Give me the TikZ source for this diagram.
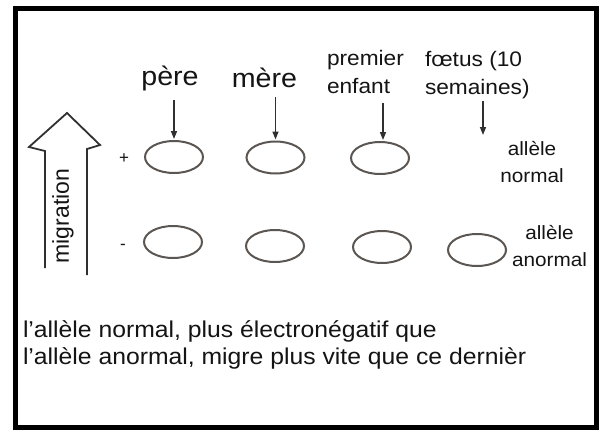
\documentclass[tikz,border=0pt]{standalone}
\usepackage{fontspec}
\setmainfont{Liberation Sans}
\newfontfamily\widesans[FakeStretch=1.08]{Liberation Sans}
\usetikzlibrary{arrows.meta,shapes.geometric}
\definecolor{ink}{RGB}{20,20,20}
\definecolor{ringcol}{RGB}{92,86,82}
\definecolor{arrcol}{RGB}{48,48,48}
\begin{document}
\begin{tikzpicture}[x=1pt,y=-1pt,
  txt/.style={inner sep=0pt, outer sep=0pt, text=ink},
  bigfont/.style={txt, font=\widesans\fontsize{26.5}{30}\selectfont},
  midfont/.style={txt, font=\widesans\fontsize{21}{28.5}\selectfont},
  smallfont/.style={txt, font=\widesans\fontsize{19.2}{26.5}\selectfont},
  bodyfont/.style={txt, font=\widesans\fontsize{22.9}{27}\selectfont},
  signfont/.style={txt, font=\fontsize{17}{17}\selectfont},
  band/.style={ellipse, draw=ringcol, line width=2pt, minimum width=58pt,
    minimum height=32pt, inner sep=0pt},
  pointer/.style={draw=arrcol, line width=1.5pt,
    -{Triangle[length=8pt,width=6pt]}, shorten >=1pt},
  bigarrow/.style={draw=arrcol, line width=1.8pt, line join=miter}]
\useasboundingbox (0,0) rectangle (601,433);
\fill[white] (0,0) rectangle (601,433);
\draw[line width=5pt, black] (15,9) rectangle (596,427);

% bands: upper row (normal allele), lower row (abnormal allele)
\node[band] (p1) at (174,157) {};
\node[band] (m1) at (275.5,157.5) {};
\node[band] (c1) at (380,158) {};
\node[band] (p2) at (173,242) {};
\node[band] (m2) at (275,246) {};
\node[band] (c2) at (382,247) {};
\node[band] (f2) at (477,250) {};

% lane labels (multi-line nodes sit on the baseline of their last line)
\node[bigfont, anchor=base] (pere) at (170,85) {père};
\node[bigfont, anchor=base] (mere) at (264.5,88) {mère};
\node[midfont, anchor=base west, align=left] (enfant) at (327,94) {premier\\enfant};
\node[midfont, anchor=base west, align=left] (foetus) at (425,95) {fœtus (10\\semaines)};
\coordinate (ft) at (483,136);
\coordinate (ct) at (383,141);

\draw[pointer] ([yshift=-10pt]pere.south -| p1.north) -- (p1.north);
\draw[pointer] ([yshift=-9pt]mere.south -| m1.north) -- (m1.north);
\draw[pointer] ([yshift=-9pt]enfant.south -| ct) -- (ct);
\draw[pointer] ([yshift=-2pt]foetus.south -| ft) -- (ft);

% electrode signs
\node[signfont] (plus) at (124,159) {+};
\node[signfont] (minus) at (123,247) {-};

% allele captions
\node[smallfont, anchor=base, align=center] (norm) at (532,182) {allèle\\normal};
\node[smallfont, anchor=base, align=center] (anorm) at (549.5,266) {allèle\\anormal};

% migration direction arrow
\draw[bigarrow] (45,268) -- (45,151) -- (29,147) -- (67,113) -- (100,145) -- (87,149) -- (87,275);
\node[txt, rotate=90, font=\fontsize{23}{23}\selectfont] (mig) at (63,216) {migration};

% explanation
\node[bodyfont, anchor=base west, align=left] (note) at (23,364)
  {l’allèle normal, plus électronégatif que\\l’allèle anormal, migre plus vite que ce dernièr};
\end{tikzpicture}
\end{document}
